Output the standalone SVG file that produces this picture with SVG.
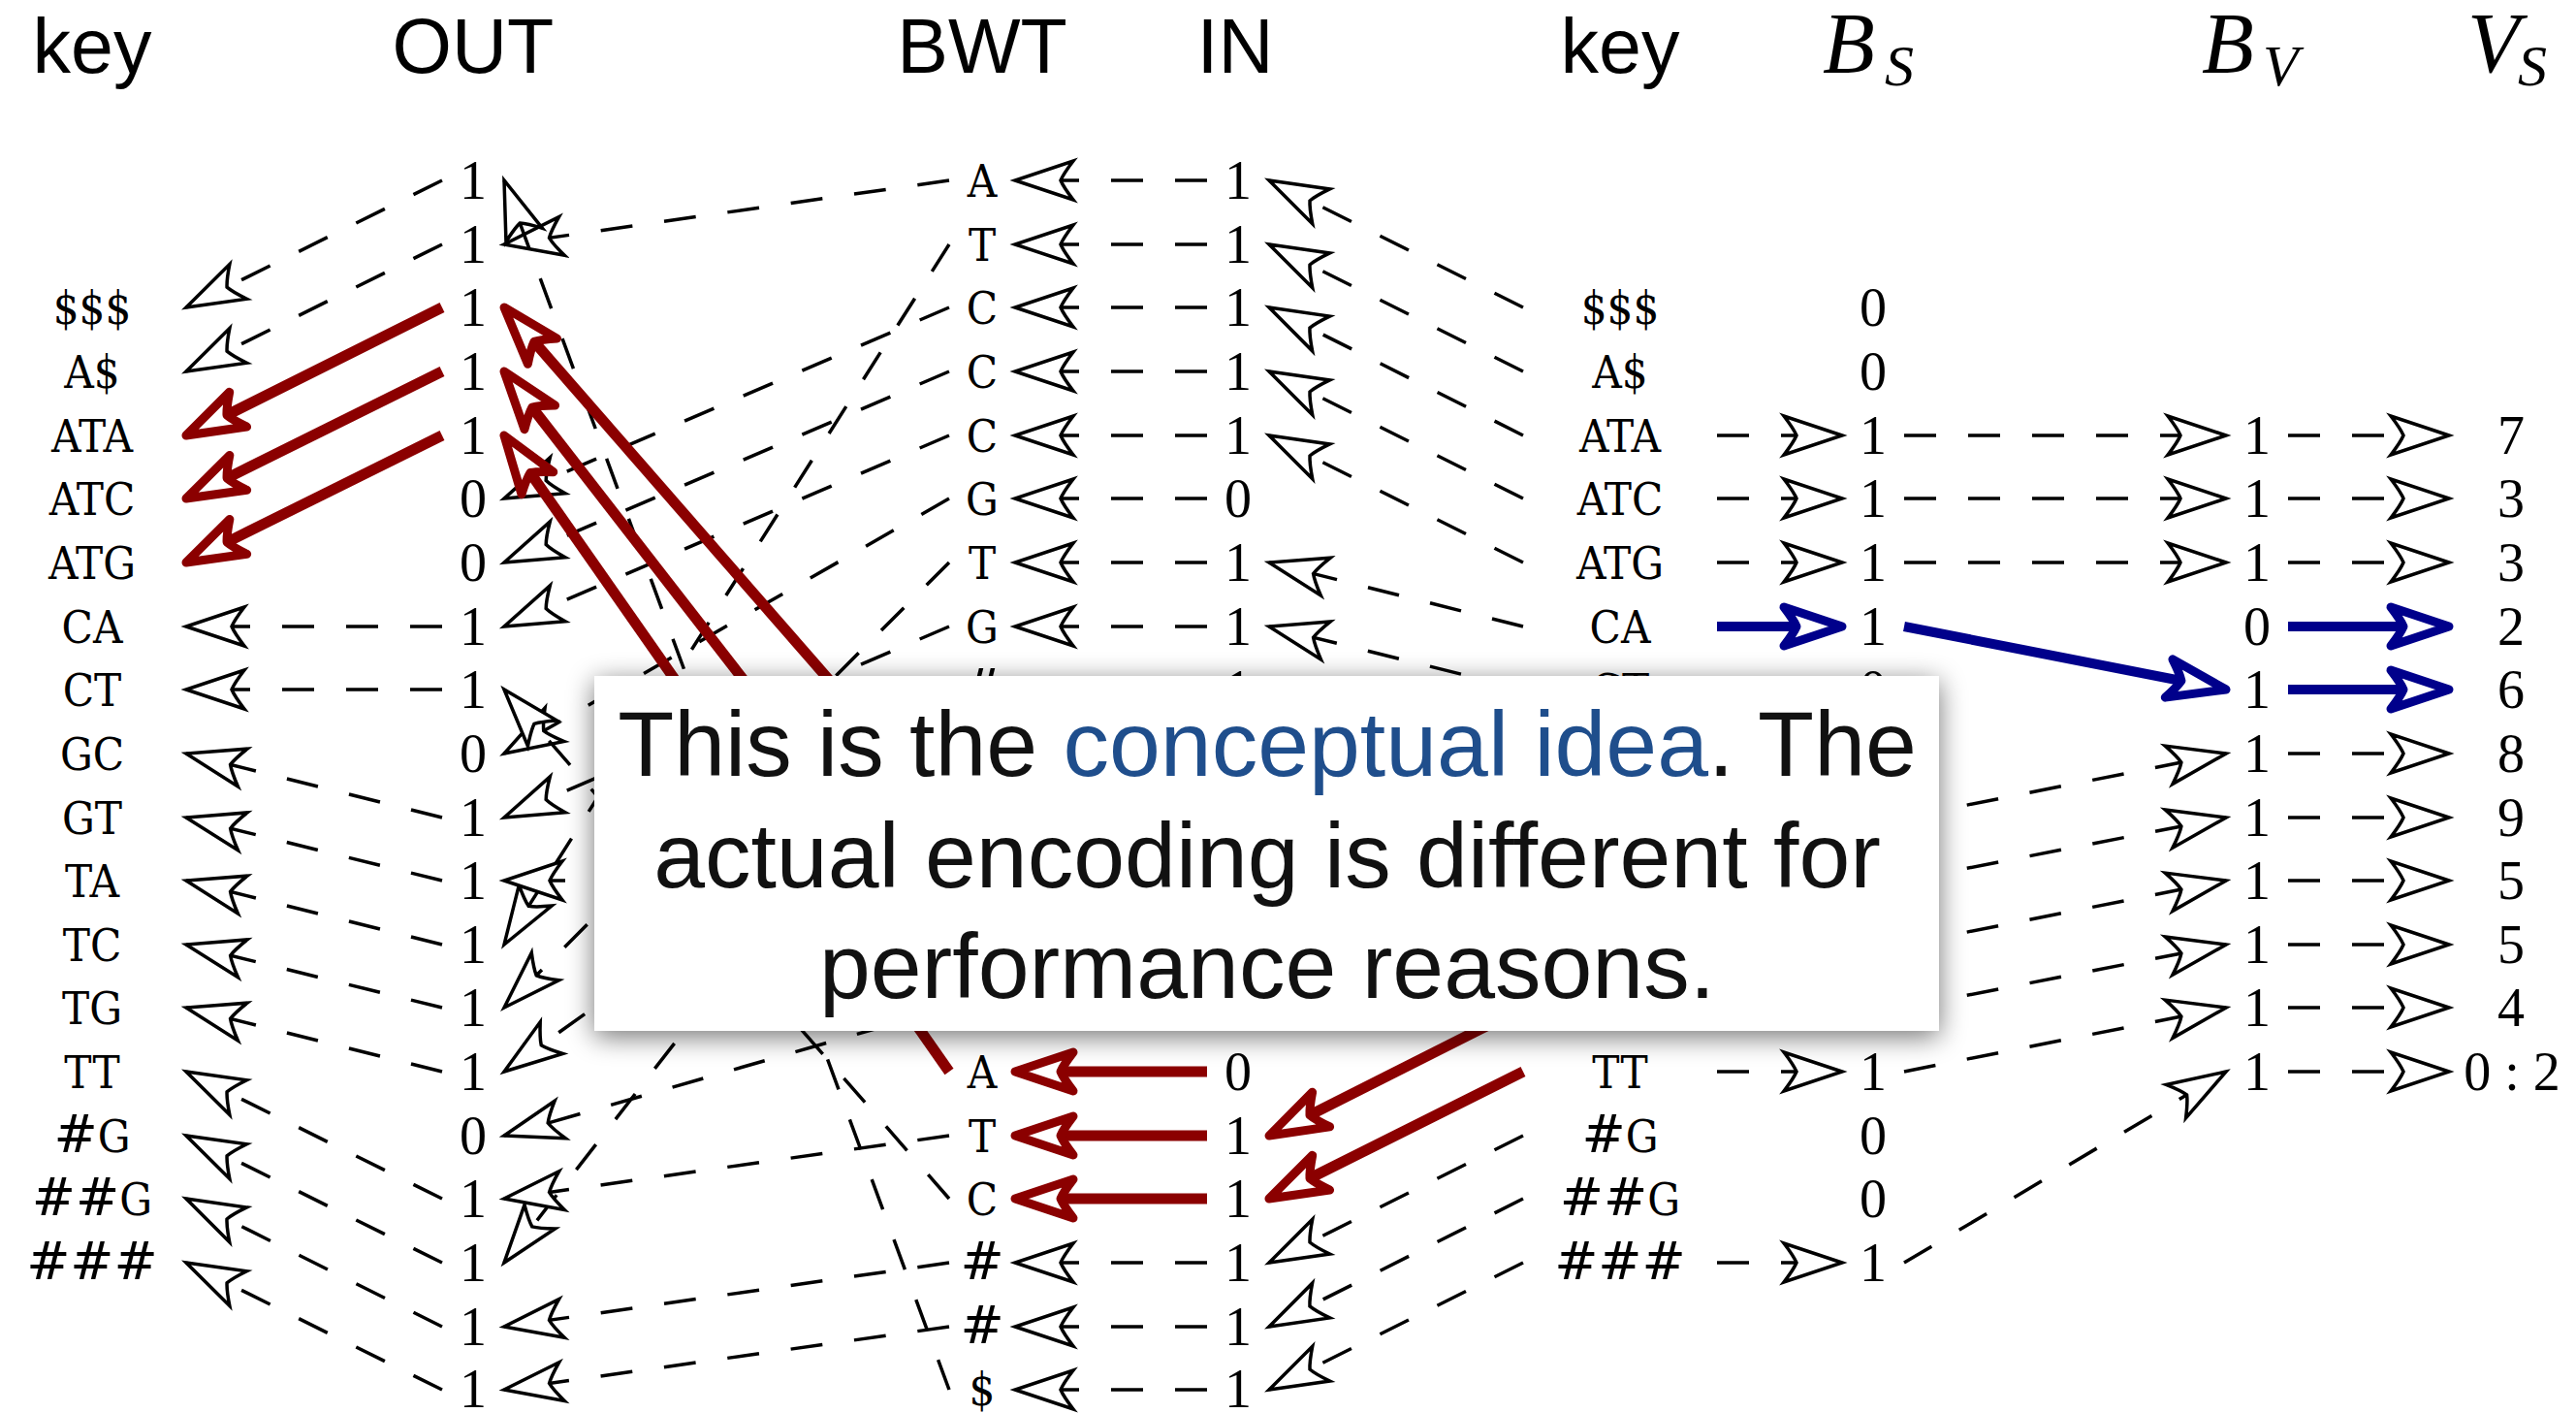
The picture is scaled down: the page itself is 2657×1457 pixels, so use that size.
<svg xmlns="http://www.w3.org/2000/svg" width="2657" height="1457" viewBox="0 0 2657 1457">
<style>
.d{font-family:"Liberation Serif","DejaVu Serif",serif;font-size:56px;text-anchor:middle;fill:#000}
.k{font-family:"DejaVu Serif","Liberation Serif",serif;font-stretch:condensed;font-size:47px;text-anchor:middle;fill:#000}
.hs{font-family:"DejaVu Serif",serif;font-stretch:normal;font-size:54px}
.h{font-family:"Liberation Sans",Arial,sans-serif;font-size:79px;text-anchor:middle;fill:#000}
.m{font-family:"Liberation Serif","DejaVu Serif",serif;font-style:italic;font-size:88px;fill:#000}
.ms{font-size:60px}
.e{fill:none;stroke:#000;stroke-width:3.5;stroke-dasharray:33 33;marker-end:url(#ah)}
.r{fill:none;stroke:#8b0000;stroke-width:11;marker-end:url(#ahr)}
.b{fill:none;stroke:#00008b;stroke-width:10;marker-end:url(#ahb)}
.bt{font-family:"Liberation Sans",Arial,sans-serif;font-size:95px;text-anchor:middle;fill:#111}
</style>
<defs>
<marker id="ah" markerUnits="userSpaceOnUse" refX="0" refY="0" markerWidth="80" markerHeight="60" orient="auto" overflow="visible">
<path d="M0,0 L-60,-20 Q-50,-7 -47,0 Q-50,7 -60,20 Z" fill="#fff" stroke="#000" stroke-width="3.5" stroke-linejoin="miter"/>
</marker>
<marker id="ahr" markerUnits="userSpaceOnUse" refX="0" refY="0" markerWidth="80" markerHeight="60" orient="auto" overflow="visible">
<path d="M47,0 L-13,-20 Q-3,-7 0,0 Q-3,7 -13,20 Z" fill="#fff" stroke="#8b0000" stroke-width="9" stroke-linejoin="round"/>
</marker>
<marker id="ahb" markerUnits="userSpaceOnUse" refX="0" refY="0" markerWidth="80" markerHeight="60" orient="auto" overflow="visible">
<path d="M47,0 L-13,-20 Q-3,-7 0,0 Q-3,7 -13,20 Z" fill="#fff" stroke="#00008b" stroke-width="9" stroke-linejoin="round"/>
</marker>
<filter id="sh" x="-5%" y="-15%" width="110%" height="135%">
<feGaussianBlur in="SourceAlpha" stdDeviation="14"/>
<feOffset dy="6" result="o"/>
<feComponentTransfer><feFuncA type="linear" slope="0.55"/></feComponentTransfer>
<feMerge><feMergeNode/><feMergeNode in="SourceGraphic"/></feMerge>
</filter>
</defs>
<rect width="2657" height="1457" fill="#fff"/>

<g id="connectors">
<!-- OUT -> key (left) -->
<path class="e" d="M456,186 L192,317"/>
<path class="e" d="M456,252 L192,383"/>
<path class="r" d="M456,317 L234,428"/>
<path class="r" d="M456,383 L234.1,493.1"/>
<path class="r" d="M456,449 L234.1,559.1"/>
<path class="e" d="M456,646 L192,646"/>
<path class="e" d="M456,711 L192,711"/>
<path class="e" d="M456,843 L192,777"/>
<path class="e" d="M456,908 L192,843"/>
<path class="e" d="M456,974 L192,908"/>
<path class="e" d="M456,1039 L192,974"/>
<path class="e" d="M456,1105 L192,1039"/>
<path class="e" d="M456,1236 L192,1105"/>
<path class="e" d="M456,1302 L192,1171"/>
<path class="e" d="M456,1368 L192,1236"/>
<path class="e" d="M456,1433 L192,1302"/>
<!-- BWT -> OUT (LF) -->
<path class="e" d="M979,186 L520,252"/>
<path class="e" d="M979,252 L520,974"/>
<path class="e" d="M979,317 L520,514"/>
<path class="e" d="M979,383 L520,580"/>
<path class="e" d="M979,449 L520,646"/>
<path class="e" d="M979,514 L520,777"/>
<path class="e" d="M979,580 L520,1039"/>
<path class="e" d="M979,646 L520,843"/>
<path class="e" d="M979,711 L520,1302"/>
<path class="e" d="M979,777 L520,1105"/>
<path class="e" d="M979,908 L520,908"/>
<path class="e" d="M979,1039 L520,1171"/>
<path class="e" d="M979,1171 L520,1236"/>
<path class="e" d="M979,1236 L520,711"/>
<path class="e" d="M979,1302 L520,1368"/>
<path class="e" d="M979,1368 L520,1433"/>
<path class="e" d="M979,1433 L520,186"/>
<path class="r" d="M979,843 L550.9,352.4"/>
<path class="r" d="M979,974 L548.8,420.1"/>
<path class="r" d="M979,1105 L546.9,487.5"/>
<!-- IN -> BWT -->
<path class="e" d="M1245,186 L1047,186"/>
<path class="e" d="M1245,252 L1047,252"/>
<path class="e" d="M1245,317 L1047,317"/>
<path class="e" d="M1245,383 L1047,383"/>
<path class="e" d="M1245,449 L1047,449"/>
<path class="e" d="M1245,514 L1047,514"/>
<path class="e" d="M1245,580 L1047,580"/>
<path class="e" d="M1245,646 L1047,646"/>
<path class="r" d="M1245,1105 L1094,1105"/>
<path class="r" d="M1245,1171 L1094,1171"/>
<path class="r" d="M1245,1236 L1094,1236"/>
<path class="e" d="M1245,1302 L1047,1302"/>
<path class="e" d="M1245,1368 L1047,1368"/>
<path class="e" d="M1245,1433 L1047,1433"/>
<!-- key (right) -> IN -->
<path class="e" d="M1571,317 L1309,186"/>
<path class="e" d="M1571,383 L1309,252"/>
<path class="e" d="M1571,449 L1309,317"/>
<path class="e" d="M1571,514 L1309,383"/>
<path class="e" d="M1571,580 L1309,449"/>
<path class="e" d="M1571,646 L1309,580"/>
<path class="e" d="M1571,711 L1309,646"/>
<path class="r" d="M1571,1039 L1351,1149.9"/>
<path class="r" d="M1571,1105 L1351,1215"/>
<path class="e" d="M1571,1171 L1309,1302"/>
<path class="e" d="M1571,1236 L1309,1368"/>
<path class="e" d="M1571,1302 L1309,1433"/>
<!-- key (right) -> B_S -->
<path class="e" d="M1771,449 L1900,449"/>
<path class="e" d="M1771,514 L1900,514"/>
<path class="e" d="M1771,580 L1900,580"/>
<path class="b" d="M1771,646 L1853,646"/>
<path class="e" d="M1771,1105 L1900,1105"/>
<path class="e" d="M1771,1302 L1900,1302"/>
<!-- B_S -> B_V -->
<path class="e" d="M1964,449 L2296,449"/>
<path class="e" d="M1964,514 L2296,514"/>
<path class="e" d="M1964,580 L2296,580"/>
<path class="b" d="M1964,646 L2249.9,702"/>
<path class="e" d="M1964,843 L2296,777"/>
<path class="e" d="M1964,908 L2296,843"/>
<path class="e" d="M1964,974 L2296,908"/>
<path class="e" d="M1964,1039 L2296,974"/>
<path class="e" d="M1964,1105 L2296,1039"/>
<path class="e" d="M1964,1302 L2296,1105"/>
<!-- B_V -> V_S -->
<path class="e" d="M2360,449 L2526,449"/>
<path class="e" d="M2360,514 L2526,514"/>
<path class="e" d="M2360,580 L2526,580"/>
<path class="b" d="M2360,646 L2479,646"/>
<path class="b" d="M2360,711 L2479,711"/>
<path class="e" d="M2360,777 L2526,777"/>
<path class="e" d="M2360,843 L2526,843"/>
<path class="e" d="M2360,908 L2526,908"/>
<path class="e" d="M2360,974 L2526,974"/>
<path class="e" d="M2360,1039 L2526,1039"/>
<path class="e" d="M2360,1105 L2526,1105"/>
</g>

<g id="headers">
<g id="hdr-key-left"><text class="h" x="95" y="75">key</text></g>
<g id="hdr-out"><text class="h" x="488" y="75">OUT</text></g>
<g id="hdr-bwt"><text class="h" x="1013" y="75">BWT</text></g>
<g id="hdr-in"><text class="h" x="1274" y="75">IN</text></g>
<g id="hdr-key-right"><text class="h" x="1671" y="75">key</text></g>
<g id="hdr-bs"><text class="m" x="1880" y="74">B<tspan class="ms" x="1944" y="88">S</tspan></text></g>
<g id="hdr-bv"><text class="m" x="2271" y="74">B<tspan class="ms" x="2334" y="88">V</tspan></text></g>
<g id="hdr-vs"><text class="m" x="2545" y="74">V<tspan class="ms" x="2597" y="88">S</tspan></text></g>
</g>

<g id="keys-left">
<g id="kl-2"><text class="k" x="95" y="334">$$$</text></g>
<g id="kl-3"><text class="k" x="95" y="400">A$</text></g>
<g id="kl-4"><text class="k" x="95" y="466">ATA</text></g>
<g id="kl-5"><text class="k" x="95" y="531">ATC</text></g>
<g id="kl-6"><text class="k" x="95" y="597">ATG</text></g>
<g id="kl-7"><text class="k" x="95" y="663">CA</text></g>
<g id="kl-8"><text class="k" x="95" y="728">CT</text></g>
<g id="kl-9"><text class="k" x="95" y="794">GC</text></g>
<g id="kl-10"><text class="k" x="95" y="860">GT</text></g>
<g id="kl-11"><text class="k" x="95" y="925">TA</text></g>
<g id="kl-12"><text class="k" x="95" y="991">TC</text></g>
<g id="kl-13"><text class="k" x="95" y="1056">TG</text></g>
<g id="kl-14"><text class="k" x="95" y="1122">TT</text></g>
<g id="kl-15"><text class="k" x="95" y="1188"><tspan class="hs">#</tspan>G</text></g>
<g id="kl-16"><text class="k" x="95" y="1253"><tspan class="hs">##</tspan>G</text></g>
<g id="kl-17"><text class="k" x="95" y="1319"><tspan class="hs">###</tspan></text></g>
</g>

<g id="out-col">
<g id="out-0"><text class="d" x="488" y="205">1</text></g>
<g id="out-1"><text class="d" x="488" y="271">1</text></g>
<g id="out-2"><text class="d" x="488" y="336">1</text></g>
<g id="out-3"><text class="d" x="488" y="402">1</text></g>
<g id="out-4"><text class="d" x="488" y="468">1</text></g>
<g id="out-5"><text class="d" x="488" y="533">0</text></g>
<g id="out-6"><text class="d" x="488" y="599">0</text></g>
<g id="out-7"><text class="d" x="488" y="665">1</text></g>
<g id="out-8"><text class="d" x="488" y="730">1</text></g>
<g id="out-9"><text class="d" x="488" y="796">0</text></g>
<g id="out-10"><text class="d" x="488" y="862">1</text></g>
<g id="out-11"><text class="d" x="488" y="927">1</text></g>
<g id="out-12"><text class="d" x="488" y="993">1</text></g>
<g id="out-13"><text class="d" x="488" y="1058">1</text></g>
<g id="out-14"><text class="d" x="488" y="1124">1</text></g>
<g id="out-15"><text class="d" x="488" y="1190">0</text></g>
<g id="out-16"><text class="d" x="488" y="1255">1</text></g>
<g id="out-17"><text class="d" x="488" y="1321">1</text></g>
<g id="out-18"><text class="d" x="488" y="1387">1</text></g>
<g id="out-19"><text class="d" x="488" y="1451">1</text></g>
</g>

<g id="bwt-col">
<g id="bwt-0"><text class="k" x="1013" y="203">A</text></g>
<g id="bwt-1"><text class="k" x="1013" y="269">T</text></g>
<g id="bwt-2"><text class="k" x="1013" y="334">C</text></g>
<g id="bwt-3"><text class="k" x="1013" y="400">C</text></g>
<g id="bwt-4"><text class="k" x="1013" y="466">C</text></g>
<g id="bwt-5"><text class="k" x="1013" y="531">G</text></g>
<g id="bwt-6"><text class="k" x="1013" y="597">T</text></g>
<g id="bwt-7"><text class="k" x="1013" y="663">G</text></g>
<g id="bwt-8"><text class="k" x="1013" y="728"><tspan class="hs">#</tspan></text></g>
<g id="bwt-14"><text class="k" x="1013" y="1122">A</text></g>
<g id="bwt-15"><text class="k" x="1013" y="1188">T</text></g>
<g id="bwt-16"><text class="k" x="1013" y="1253">C</text></g>
<g id="bwt-17"><text class="k" x="1013" y="1319"><tspan class="hs">#</tspan></text></g>
<g id="bwt-18"><text class="k" x="1013" y="1385"><tspan class="hs">#</tspan></text></g>
<g id="bwt-19"><text class="k" x="1013" y="1449">$</text></g>
</g>

<g id="in-col">
<g id="in-0"><text class="d" x="1277" y="205">1</text></g>
<g id="in-1"><text class="d" x="1277" y="271">1</text></g>
<g id="in-2"><text class="d" x="1277" y="336">1</text></g>
<g id="in-3"><text class="d" x="1277" y="402">1</text></g>
<g id="in-4"><text class="d" x="1277" y="468">1</text></g>
<g id="in-5"><text class="d" x="1277" y="533">0</text></g>
<g id="in-6"><text class="d" x="1277" y="599">1</text></g>
<g id="in-7"><text class="d" x="1277" y="665">1</text></g>
<g id="in-8"><text class="d" x="1277" y="730">1</text></g>
<g id="in-14"><text class="d" x="1277" y="1124">0</text></g>
<g id="in-15"><text class="d" x="1277" y="1190">1</text></g>
<g id="in-16"><text class="d" x="1277" y="1255">1</text></g>
<g id="in-17"><text class="d" x="1277" y="1321">1</text></g>
<g id="in-18"><text class="d" x="1277" y="1387">1</text></g>
<g id="in-19"><text class="d" x="1277" y="1451">1</text></g>
</g>

<g id="keys-right">
<g id="kr-2"><text class="k" x="1671" y="334">$$$</text></g>
<g id="kr-3"><text class="k" x="1671" y="400">A$</text></g>
<g id="kr-4"><text class="k" x="1671" y="466">ATA</text></g>
<g id="kr-5"><text class="k" x="1671" y="531">ATC</text></g>
<g id="kr-6"><text class="k" x="1671" y="597">ATG</text></g>
<g id="kr-7"><text class="k" x="1671" y="663">CA</text></g>
<g id="kr-8"><text class="k" x="1671" y="728">CT</text></g>
<g id="kr-14"><text class="k" x="1671" y="1122">TT</text></g>
<g id="kr-15"><text class="k" x="1671" y="1188"><tspan class="hs">#</tspan>G</text></g>
<g id="kr-16"><text class="k" x="1671" y="1253"><tspan class="hs">##</tspan>G</text></g>
<g id="kr-17"><text class="k" x="1671" y="1319"><tspan class="hs">###</tspan></text></g>
</g>

<g id="bs-col">
<g id="bs-2"><text class="d" x="1932" y="336">0</text></g>
<g id="bs-3"><text class="d" x="1932" y="402">0</text></g>
<g id="bs-4"><text class="d" x="1932" y="468">1</text></g>
<g id="bs-5"><text class="d" x="1932" y="533">1</text></g>
<g id="bs-6"><text class="d" x="1932" y="599">1</text></g>
<g id="bs-7"><text class="d" x="1932" y="665">1</text></g>
<g id="bs-8"><text class="d" x="1932" y="730">0</text></g>
<g id="bs-14"><text class="d" x="1932" y="1124">1</text></g>
<g id="bs-15"><text class="d" x="1932" y="1190">0</text></g>
<g id="bs-16"><text class="d" x="1932" y="1255">0</text></g>
<g id="bs-17"><text class="d" x="1932" y="1321">1</text></g>
</g>

<g id="bv-col">
<g id="bv-4"><text class="d" x="2328" y="468">1</text></g>
<g id="bv-5"><text class="d" x="2328" y="533">1</text></g>
<g id="bv-6"><text class="d" x="2328" y="599">1</text></g>
<g id="bv-7"><text class="d" x="2328" y="665">0</text></g>
<g id="bv-8"><text class="d" x="2328" y="730">1</text></g>
<g id="bv-9"><text class="d" x="2328" y="796">1</text></g>
<g id="bv-10"><text class="d" x="2328" y="862">1</text></g>
<g id="bv-11"><text class="d" x="2328" y="927">1</text></g>
<g id="bv-12"><text class="d" x="2328" y="993">1</text></g>
<g id="bv-13"><text class="d" x="2328" y="1058">1</text></g>
<g id="bv-14"><text class="d" x="2328" y="1124">1</text></g>
</g>

<g id="vs-col">
<g id="vs-4"><text class="d" x="2590" y="468">7</text></g>
<g id="vs-5"><text class="d" x="2590" y="533">3</text></g>
<g id="vs-6"><text class="d" x="2590" y="599">3</text></g>
<g id="vs-7"><text class="d" x="2590" y="665">2</text></g>
<g id="vs-8"><text class="d" x="2590" y="730">6</text></g>
<g id="vs-9"><text class="d" x="2590" y="796">8</text></g>
<g id="vs-10"><text class="d" x="2590" y="862">9</text></g>
<g id="vs-11"><text class="d" x="2590" y="927">5</text></g>
<g id="vs-12"><text class="d" x="2590" y="993">5</text></g>
<g id="vs-13"><text class="d" x="2590" y="1058">4</text></g>
<g id="vs-14"><text class="d" x="2591" y="1124">0 : 2</text></g>
</g>

<g id="note">
<rect x="613" y="697" width="1387" height="366" fill="#fff" filter="url(#sh)"/>
<text class="bt" x="1307" y="800">This is the <tspan fill="#1f4e8c">conceptual idea</tspan>. The</text>
<text class="bt" x="1307" y="915">actual encoding is different for</text>
<text class="bt" x="1307" y="1029">performance reasons.</text>
</g>
</svg>
